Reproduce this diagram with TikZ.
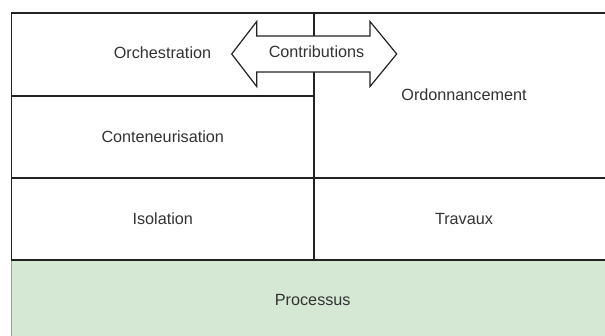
\documentclass[tikz,border=0pt]{standalone}
\usepackage{fontspec}
\setmainfont{Liberation Sans}
\definecolor{gfill}{HTML}{D5E8D4}
\definecolor{gline}{HTML}{82B366}
\definecolor{txt}{HTML}{333333}
\definecolor{edge}{HTML}{222222}
\begin{document}
\begin{tikzpicture}[x=1pt,y=-1pt,
  cell/.style={draw=edge,line width=1.2pt,fill=white,rectangle,anchor=north west,inner sep=0pt,outer sep=0pt,
    text=txt,font=\fontsize{16.2}{19}\selectfont},
  greencell/.style={cell,fill=gfill,draw=gline},
  lbl/.style={text=txt,font=\fontsize{16.2}{19}\selectfont,inner sep=0pt},
  bigarrow/.style={draw=edge,line width=1.2pt,fill=white,line join=miter}]
\useasboundingbox (0,0) rectangle (605,336);
\clip (0,0) rectangle (605,336);
% Processus (bottom layer)
\node[greencell,minimum width=602.5pt,minimum height=81pt] (proc) at (11.5,260) {Processus};
\draw[edge,line width=1.2pt] (proc.north west) -- (proc.north east);
% left column
\node[cell,minimum width=302.5pt,minimum height=83pt] (orch) at (11.5,13) {};
\node[cell,minimum width=302.5pt,minimum height=82pt] (cont) at (11.5,96) {Conteneurisation};
\node[cell,minimum width=302.5pt,minimum height=82pt] (iso) at (11.5,178) {Isolation};
% right column
\node[cell,minimum width=300pt,minimum height=165pt] (ordo) at (314,13) {};
\node[cell,minimum width=300pt,minimum height=82pt] (trav) at (314,178) {Travaux};
% labels
\node[lbl] (orchl) at (162.5,52.5) {Orchestration};
\node[lbl] (ordol) at (464,95) {Ordonnancement};
% double arrow
\draw[bigarrow] (231.7,54) -- (256.7,21.5) -- (256.7,36) -- (370,36) -- (370,21.5) -- (396.7,54)
  -- (370,86.5) -- (370,72) -- (256.7,72) -- (256.7,86.5) -- cycle;
\node[lbl] (contrib) at (316.5,52) {Contributions};
\end{tikzpicture}
\end{document}
